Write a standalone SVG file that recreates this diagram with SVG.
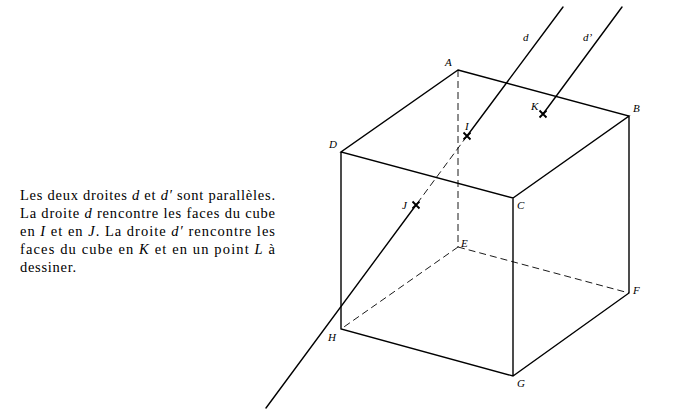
<svg xmlns="http://www.w3.org/2000/svg" width="682" height="415" viewBox="0 0 682 415">
<style>
.e{stroke:#000;stroke-width:1.4;fill:none;stroke-linecap:round}
.m{stroke:#000;stroke-width:1.900;fill:none}
.h{stroke:#000;stroke-width:.9;fill:none;stroke-dasharray:7 4}
.l{font-family:"Liberation Serif",serif;font-size:11px;font-style:italic;fill:#000}
.t{font-family:"Liberation Serif",serif;font-size:14.500px;fill:#000}
.t tspan{font-style:italic}
</style>
<rect width="682" height="415" fill="#fff"/>
<g id="connectors">
<path class="e" d="M458 70L629 116L513 198L341 152ZM341 152V329L513 376L629 293V116M513 198V376"/>
<path class="h" d="M458 70V247M458 247L629 293M458 247L341 329"/>
<path class="e" d="M563 7L467 136M416 205L266 408M622 7L543 114"/>
<path class="h" d="M467 136L416 205"/>
<path class="m" d="M463.500 132.500l7 7m0-7l-7 7M412.500 201.500l7 7m0-7l-7 7M539.500 110.500l7 7m0-7l-7 7"/>
</g>
<g id="node-A"><text class="l" x="445" y="66">A</text></g>
<g id="node-B"><text class="l" x="633" y="112">B</text></g>
<g id="node-C"><text class="l" x="517" y="209">C</text></g>
<g id="node-D"><text class="l" x="329" y="148">D</text></g>
<g id="node-E"><text class="l" x="461" y="247">E</text></g>
<g id="node-F"><text class="l" x="633" y="294">F</text></g>
<g id="node-G"><text class="l" x="517" y="387">G</text></g>
<g id="node-H"><text class="l" x="328" y="341">H</text></g>
<g id="node-I"><text class="l" x="465" y="130">I</text></g>
<g id="node-J"><text class="l" x="402" y="209">J</text></g>
<g id="node-K"><text class="l" x="531" y="110">K</text></g>
<g id="line-d"><text class="l" x="523" y="41">d</text></g>
<g id="line-d-prime"><text class="l" x="583" y="41">d’</text></g>
<g id="caption">
<text class="t" x="20" y="200" textLength="255" lengthAdjust="spacing">Les deux droites <tspan>d</tspan> et <tspan>d′</tspan> sont parallèles.</text>
<text class="t" x="20" y="218" textLength="255" lengthAdjust="spacing">La droite <tspan>d</tspan> rencontre les faces du cube</text>
<text class="t" x="20" y="236" textLength="255" lengthAdjust="spacing">en <tspan>I</tspan> et en <tspan>J</tspan>. La droite <tspan>d′</tspan> rencontre les</text>
<text class="t" x="20" y="254" textLength="255" lengthAdjust="spacing">faces du cube en <tspan>K</tspan> et en un point <tspan>L</tspan> à</text>
<text class="t" x="20" y="272" textLength="56">dessiner.</text>
</g>
</svg>
